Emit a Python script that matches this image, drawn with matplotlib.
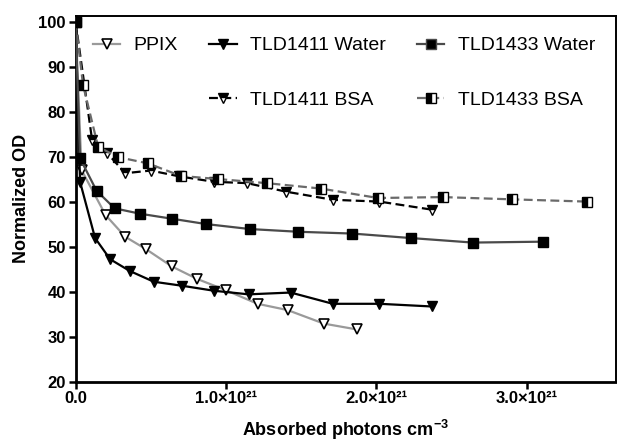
"""
Photobleaching curves: normalized OD vs absorbed photons for PPIX and
the two TLD compounds in water and in BSA.
"""

import matplotlib

matplotlib.use("Agg")
import matplotlib.pyplot as plt
from matplotlib.lines import Line2D
from matplotlib.ticker import FixedLocator, FuncFormatter

plt.rcParams["font.family"] = ["Liberation Sans", "DejaVu Sans"]
plt.rcParams["mathtext.fontset"] = "custom"
plt.rcParams["mathtext.rm"] = "Liberation Sans:bold"
plt.rcParams["mathtext.bf"] = "Liberation Sans:bold"

# x values in units of 1e21 photons cm^-3
ppix_x = [0.0, 0.04, 0.20, 0.33, 0.47, 0.64, 0.81, 1.00, 1.21, 1.41, 1.65, 1.87]
ppix_y = [100, 67.0, 57.0, 52.2, 49.4, 45.6, 42.8, 40.3, 37.3, 35.9, 32.9, 31.6]

tld1411_w_x = [0.0, 0.03, 0.13, 0.23, 0.36, 0.52, 0.71, 0.92, 1.15, 1.43, 1.71, 2.02, 2.37]
tld1411_w_y = [100, 64.4, 51.9, 47.2, 44.6, 42.2, 41.3, 40.2, 39.4, 39.8, 37.3, 37.3, 36.7]

tld1433_w_x = [0.0, 0.03, 0.14, 0.26, 0.43, 0.64, 0.87, 1.16, 1.48, 1.84, 2.23, 2.64, 3.11]
tld1433_w_y = [100, 69.6, 62.4, 58.5, 57.3, 56.2, 55.0, 53.9, 53.3, 52.9, 51.9, 50.9, 51.1]

tld1411_b_x = [0.0, 0.11, 0.21, 0.33, 0.50, 0.69, 0.92, 1.14, 1.40, 1.71, 2.02, 2.37]
tld1411_b_y = [100, 73.7, 70.8, 66.3, 66.9, 65.6, 64.4, 64.1, 62.2, 60.4, 60.0, 58.2]

tld1433_b_x = [0.0, 0.05, 0.15, 0.28, 0.48, 0.70, 0.95, 1.27, 1.63, 2.01, 2.44, 2.90, 3.40]
tld1433_b_y = [100, 85.9, 72.2, 69.9, 68.5, 65.7, 65.0, 64.1, 62.9, 60.8, 61.0, 60.5, 60.0]

x_ticks = [0.0, 1.0, 2.0, 3.0]
y_ticks = [20, 30, 40, 50, 60, 70, 80, 90, 100]

fig = plt.figure(figsize=(6.17, 4.41), dpi=100)
ax = fig.add_axes([0.1224, 0.1345, 0.8755, 0.83])

ms_tri = 7.5
ms_sq = 6.8

ax.plot(ppix_x, ppix_y, color="#9a9a9a", lw=1.6, marker="v", ms=ms_tri,
        mfc="white", mec="black", mew=1.2, zorder=3)
ax.plot(tld1411_w_x, tld1411_w_y, color="black", lw=1.6, marker="v", ms=ms_tri,
        mfc="black", mec="black", zorder=3)
ax.plot(tld1411_b_x, tld1411_b_y, color="black", lw=1.6, ls=(0, (4, 2)), marker="v",
        ms=ms_tri, fillstyle="top", mfc="black", mfcalt="white", mec="black",
        mew=1.0, zorder=4)
ax.plot(tld1433_b_x, tld1433_b_y, color="#6a6a6a", lw=1.6, ls=(0, (4, 2)), marker="s",
        ms=ms_sq, fillstyle="left", mfc="black", mfcalt="white", mec="black",
        mew=1.0, zorder=4)
ax.plot(tld1433_w_x, tld1433_w_y, color="#4a4a4a", lw=1.6, marker="s", ms=ms_sq,
        mfc="black", mec="black", zorder=5)

ax.set_xlim(0, 3.59)
ax.set_ylim(20, 101.3)
ax.xaxis.set_major_locator(FixedLocator(x_ticks))
ax.yaxis.set_major_locator(FixedLocator(y_ticks))
ax.xaxis.set_major_formatter(
    FuncFormatter(lambda v, p: "0.0" if v == 0 else f"{v:.1f}\u00d710\u00b2\u00b9"))

for lab in ax.get_xticklabels() + ax.get_yticklabels():
    lab.set_fontweight("bold")
    lab.set_fontsize(12)
ax.tick_params(direction="out", length=5, width=1.8, pad=2)

for side in ("left", "bottom"):
    ax.spines[side].set_linewidth(2.0)
for side in ("top", "right"):
    ax.spines[side].set_linewidth(1.4)

ax.set_xlabel(r"Absorbed photons cm$^{-3}$", fontsize=13, fontweight="bold", labelpad=8)
ax.set_ylabel("Normalized OD", fontsize=13, fontweight="bold", labelpad=6)

handles = [
    Line2D([], [], color="#9a9a9a", lw=1.6, marker="v", ms=ms_tri, mfc="white",
           mec="black", mew=1.2),
    Line2D([], [], color="none"),
    Line2D([], [], color="black", lw=1.6, marker="v", ms=ms_tri, mfc="black"),
    Line2D([], [], color="black", lw=1.6, ls=(0, (4, 2)), marker="v", ms=ms_tri,
           fillstyle="top", mfc="black", mfcalt="white", mec="black"),
    Line2D([], [], color="#4a4a4a", lw=1.6, marker="s", ms=ms_sq, mfc="black"),
    Line2D([], [], color="#6a6a6a", lw=1.6, ls=(0, (4, 2)), marker="s", ms=ms_sq,
           fillstyle="left", mfc="black", mfcalt="white", mec="black"),
]
labels = ["PPIX", "", "TLD1411 Water", "TLD1411 BSA", "TLD1433 Water", "TLD1433 BSA"]
ax.legend(handles, labels, ncol=3, frameon=False, fontsize=14,
          loc="upper left", bbox_to_anchor=(0.0, 0.99),
          handlelength=1.4, handletextpad=0.7, columnspacing=1.6,
          labelspacing=1.9)

fig.savefig("out.png", dpi=100)
